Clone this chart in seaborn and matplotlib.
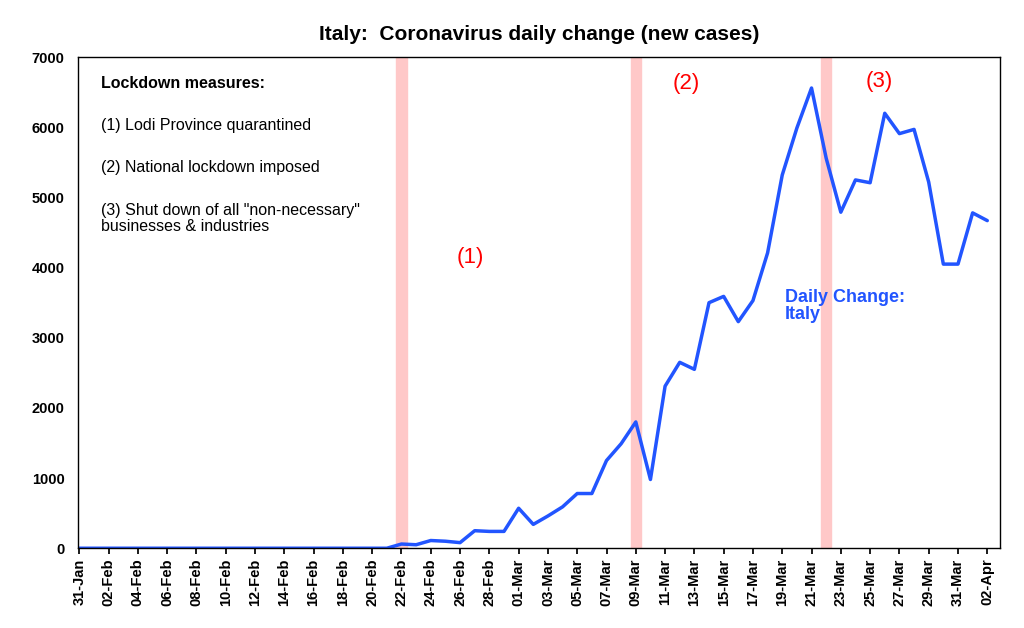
import numpy as np
import pandas as pd
import matplotlib
matplotlib.use('Agg')
import matplotlib.pyplot as plt
import seaborn as sns

dates = pd.date_range('2020-01-31', '2020-04-02', freq='D')
pre = [0] * 22
cases = pre + [60, 50, 110, 100, 80, 250, 240, 240, 570, 340, 460, 590, 780, 780,
               1250, 1490, 1800, 980, 2310, 2650, 2550, 3500, 3590, 3230, 3530, 4210,
               5320, 5990, 6560, 5560, 4790, 5250, 5210, 6200, 5910, 5970, 5220, 4050,
               4050, 4780, 4670]
lockdown_idx = [22, 38, 51]
labels = [d.strftime('%d-%b') for d in dates]

sns.set_theme(style='white')
plt.rcParams['font.family'] = ['Liberation Sans', 'DejaVu Sans']

df = pd.DataFrame({'x': np.arange(len(dates)), 'cases': cases})
fig = plt.figure(figsize=(10.24, 6.28), dpi=100)
ax = fig.add_axes([0.076, 0.127, 0.901, 0.782])
for i in lockdown_idx:
    ax.axvspan(i - 0.35, i + 0.35, color='#ffc8c8', zorder=0)
sns.lineplot(data=df, x='x', y='cases', color='#2255ff', linewidth=2.5, ax=ax)
ax.set_xlim(-0.1, len(dates) - 0.1)
ax.set_ylim(0, 7000)
ax.set_yticks(range(0, 7001, 1000))
ax.set_xticks(range(0, len(dates), 2))
ax.set_xticklabels(labels[::2], rotation=90, fontsize=10.5, fontweight='bold')
ax.tick_params(axis='y', labelsize=10.5, colors='black')
for t in ax.get_yticklabels():
    t.set_fontweight('bold')
ax.set_xlabel('')
ax.set_ylabel('')
for s in ax.spines.values():
    s.set_color('black')
    s.set_linewidth(1)
ax.tick_params(axis='x', which='both', bottom=True, length=4, color='black', labelcolor='black')
ax.set_title('Italy:  Coronavirus daily change (new cases)', fontsize=15, fontweight='bold',
             pad=12, color='black')

ax.text(1.5, 6620, 'Lockdown measures:', fontsize=11.5, fontweight='bold', va='center', color='black')
ax.text(1.5, 6020, '(1) Lodi Province quarantined', fontsize=11.5, va='center', color='black')
ax.text(1.5, 5420, '(2) National lockdown imposed', fontsize=11.5, va='center', color='black')
ax.text(1.5, 4820, '(3) Shut down of all "non-necessary"', fontsize=11.5, va='center', color='black')
ax.text(1.5, 4580, 'businesses & industries', fontsize=11.5, va='center', color='black')
ax.text(25.8, 4150, '(1)', color='red', fontsize=16, va='center')
ax.text(40.5, 6620, '(2)', color='red', fontsize=16, va='center')
ax.text(53.7, 6650, '(3)', color='red', fontsize=16, va='center')
ax.text(48.2, 3450, 'Daily Change:\nItaly', color='#2255ff', fontsize=13,
        fontweight='bold', va='center', linespacing=1.0)

fig.savefig('out.png', dpi=100)
